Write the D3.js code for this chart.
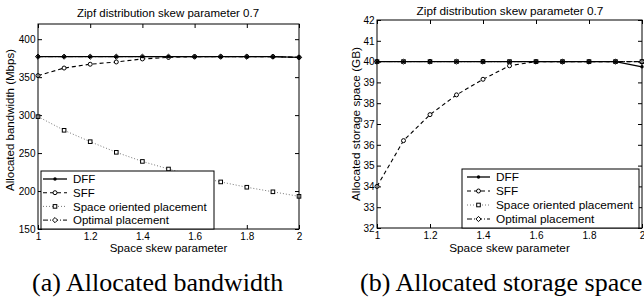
<!DOCTYPE html>
<html>
<head>
<meta charset="utf-8">
<script src="https://cdn.jsdelivr.net/npm/d3@7"></script>
<style>
  body { margin: 0; background: #fff; }
  svg { display: block; }
  text { font-family: "Liberation Sans", Arial, sans-serif; fill: #000; }
  .caption { font-family: "Liberation Serif", "Times New Roman", serif; font-size: 26px; }
</style>
</head>
<body>
<svg width="644" height="305"></svg>
<script>
// space skew parameter, shared x values
let skew = [1, 1.1, 1.2, 1.3, 1.4, 1.5, 1.6, 1.7, 1.8, 1.9, 2];
let xTicks = [1, 1.2, 1.4, 1.6, 1.8, 2];
let seriesNames = ["DFF", "SFF", "Space oriented placement", "Optimal placement"];

// (a) allocated bandwidth, Mbps
let bwDFF = [377, 377, 377, 377, 377, 377, 377, 377, 377, 377, 376];
let bwSFF = [352, 362, 367, 370, 374, 376, 377, 377, 377, 377, 376];
let bwSpace = [298, 280, 265, 251, 239, 229, 220, 212, 205, 199, 193];
let bwOptimal = [377, 377, 377, 377, 377, 377, 377, 377, 377, 377, 376];
let bwTicks = [150, 200, 250, 300, 350, 400];

// (b) allocated storage space, GB
let stDFF = [40, 40, 40, 40, 40, 40, 40, 40, 40, 40, 39.75];
let stSFF = [34.0, 36.2, 37.45, 38.4, 39.15, 39.8, 40, 40, 40, 40, 40];
let stSpace = [40, 40, 40, 40, 40, 40, 40, 40, 40, 40, 40];
let stOptimal = [40, 40, 40, 40, 40, 40, 40, 40, 40, 40, 40];
let stTicks = [32, 33, 34, 35, 36, 37, 38, 39, 40, 41, 42];

let svg = d3.select("svg");

// line style + marker for each series (same order as seriesNames)
let styles = [
  { dash: null, color: "#000", width: 1.3, marker: "dot" },
  { dash: "4,3", color: "#000", width: 1.1, marker: "circle" },
  { dash: "1,2", color: "#777", width: 1, marker: "square" },
  { dash: "5,2,1,2", color: "#000", width: 1, marker: "diamond" }
];

function drawMarker(sel, type) {
  if (type == "dot") {
    sel.append("circle").attr("r", 1.7).attr("fill", "#000");
  } else if (type == "circle") {
    sel.append("circle").attr("r", 2).attr("fill", "#fff").attr("stroke", "#000").attr("stroke-width", 1);
  } else if (type == "square") {
    sel.append("rect").attr("x", -1.8).attr("y", -1.8).attr("width", 3.6).attr("height", 3.6)
      .attr("fill", "#fff").attr("stroke", "#000").attr("stroke-width", 1);
  } else {
    sel.append("path").attr("d", "M0,-2.6L2.6,0L0,2.6L-2.6,0Z")
      .attr("fill", "#fff").attr("stroke", "#000").attr("stroke-width", 1);
  }
}

function drawPanel(p) {
  let x = d3.scaleLinear().domain([1, 2]).range([p.left, p.right]);
  let y = d3.scaleLinear().domain(p.yDomain).range([p.bottom, p.top]);
  let g = svg.append("g").style("font-size", p.font + "px");

  // inward ticks on all four sides
  g.append("g")
    .attr("transform", "translate(0," + p.bottom + ")")
    .call(d3.axisBottom(x).tickValues(xTicks).tickSize(-4).tickSizeOuter(0).tickPadding(4).tickFormat(d3.format("~g")));
  g.append("g")
    .attr("transform", "translate(0," + p.top + ")")
    .call(d3.axisTop(x).tickValues(xTicks).tickSize(-4).tickSizeOuter(0).tickFormat(""));
  g.append("g")
    .attr("transform", "translate(" + p.left + ",0)")
    .call(d3.axisLeft(y).tickValues(p.yTicks).tickSize(-4).tickSizeOuter(0).tickPadding(2.5));
  g.append("g")
    .attr("transform", "translate(" + p.right + ",0)")
    .call(d3.axisRight(y).tickValues(p.yTicks).tickSize(-4).tickSizeOuter(0).tickFormat(""));
  g.selectAll(".domain").remove();
  g.selectAll(".tick line").attr("stroke", "#000");
  g.selectAll(".tick text").attr("fill", "#000").style("font-family", "Liberation Sans, Arial, sans-serif");

  // series
  let line = d3.line()
    .x(function(d) { return x(d[0]); })
    .y(function(d) { return y(d[1]); });
  let order = [2, 3, 1, 0];
  order.forEach(function(i) {
    let pts = skew.map(function(s, k) { return [s, p.series[i][k]]; });
    let st = styles[i];
    g.append("path")
      .datum(pts)
      .attr("fill", "none")
      .attr("stroke", st.color)
      .attr("stroke-width", st.width)
      .attr("stroke-dasharray", st.dash)
      .attr("d", line);
    g.selectAll(".m" + i)
      .data(pts)
      .enter()
      .append("g")
      .attr("class", "m" + i)
      .attr("transform", function(d) { return "translate(" + x(d[0]) + "," + y(d[1]) + ")"; })
      .each(function() { drawMarker(d3.select(this), st.marker); });
  });

  // frame
  g.append("rect")
    .attr("x", p.left).attr("y", p.top)
    .attr("width", p.right - p.left).attr("height", p.bottom - p.top)
    .attr("fill", "none").attr("stroke", "#000").attr("stroke-width", 1);

  // legend
  let lg = p.legend;
  g.append("rect")
    .attr("x", lg.x0).attr("y", lg.y0)
    .attr("width", lg.x1 - lg.x0).attr("height", lg.y1 - lg.y0)
    .attr("fill", "#fff").attr("stroke", "#000").attr("stroke-width", 1);
  seriesNames.forEach(function(name, i) {
    let yy = lg.firstRow + i * lg.step;
    let st = styles[i];
    g.append("line")
      .attr("x1", lg.lineX0).attr("x2", lg.lineX1)
      .attr("y1", yy).attr("y2", yy)
      .attr("stroke", st.color).attr("stroke-width", st.width)
      .attr("stroke-dasharray", st.dash);
    let mk = g.append("g").attr("transform", "translate(" + (lg.lineX0 + lg.lineX1) / 2 + "," + yy + ")");
    drawMarker(mk, st.marker);
    g.append("text")
      .attr("x", lg.textX).attr("y", yy).attr("dy", "0.36em")
      .text(name);
  });

  // title and axis labels
  g.append("text")
    .attr("x", p.titleX).attr("y", p.titleY)
    .attr("text-anchor", "middle")
    .text("Zipf distribution skew parameter 0.7");
  g.append("text")
    .attr("x", (p.left + p.right) / 2).attr("y", 252)
    .attr("text-anchor", "middle")
    .text("Space skew parameter");
  g.append("text")
    .attr("transform", "translate(" + p.yLabelX + "," + p.yLabelY + ") rotate(-90)")
    .attr("text-anchor", "middle")
    .text(p.yLabel);

  svg.append("text")
    .attr("class", "caption")
    .attr("x", p.captionX).attr("y", 291)
    .text(p.caption);
}

drawPanel({
  left: 38, right: 299, top: 24, bottom: 229,
  yDomain: [150, 420], yTicks: bwTicks, font: 11.5,
  series: [bwDFF, bwSFF, bwSpace, bwOptimal],
  legend: { x0: 41, x1: 214, y0: 171, y1: 229, firstRow: 179, step: 13.7, lineX0: 43, lineX1: 67, textX: 73 },
  titleX: 168, titleY: 17,
  yLabel: "Allocated bandwidth (Mbps)", yLabelX: 14, yLabelY: 120,
  caption: "(a) Allocated bandwidth", captionX: 32
});

drawPanel({
  left: 377, right: 642, top: 20, bottom: 228,
  yDomain: [32, 42], yTicks: stTicks, font: 11.8,
  series: [stDFF, stSFF, stSpace, stOptimal],
  legend: { x0: 462, x1: 639, y0: 169, y1: 228, firstRow: 177, step: 14, lineX0: 467, lineX1: 490, textX: 496 },
  titleX: 510, titleY: 15,
  yLabel: "Allocated storage space (GB)", yLabelX: 360, yLabelY: 124,
  caption: "(b) Allocated storage space", captionX: 360
});
</script>
</body>
</html>
